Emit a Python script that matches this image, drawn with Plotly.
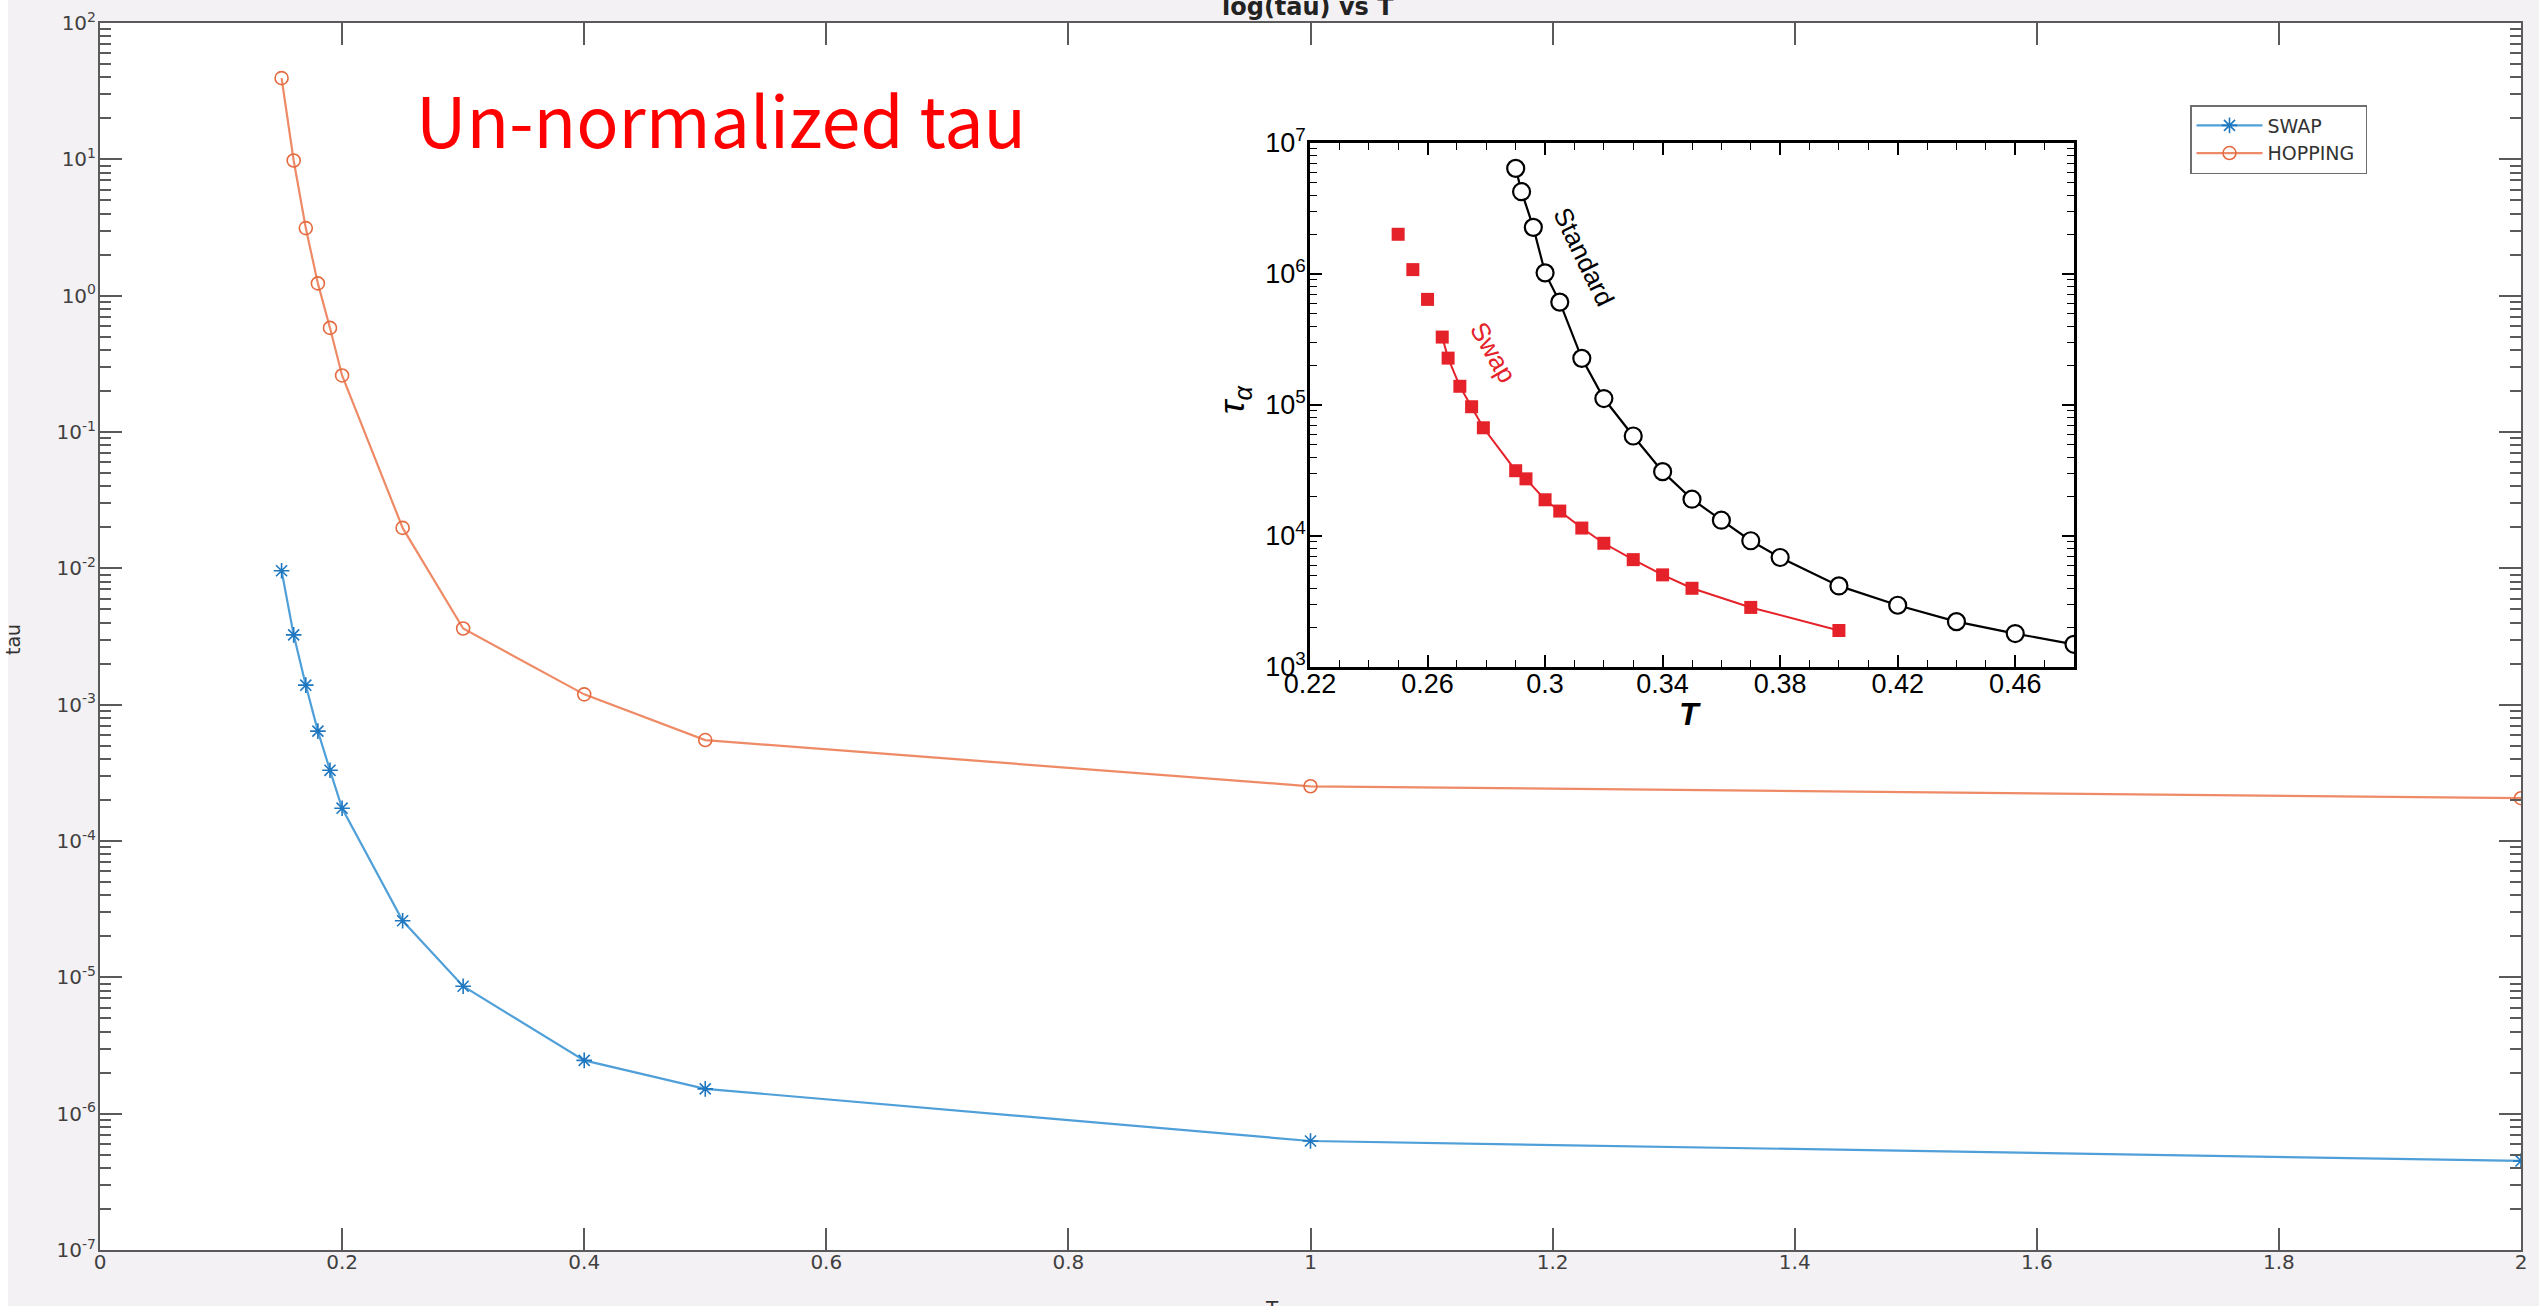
import plotly.graph_objects as go

# ---------------- data ----------------
T_main = [0.15, 0.16, 0.17, 0.18, 0.19, 0.20, 0.25, 0.30, 0.40, 0.50, 1.00, 2.00]
tau_swap = [9.6e-3, 3.25e-3, 1.39e-3, 6.4e-4, 3.3e-4, 1.74e-4, 2.6e-5, 8.6e-6,
            2.46e-6, 1.52e-6, 6.3e-7, 4.5e-7]
tau_hopping = [39.4, 9.8, 3.13, 1.23, 0.58, 0.26, 0.0198, 3.62e-3,
               1.19e-3, 5.5e-4, 2.52e-4, 2.06e-4]

# inset (tau_alpha vs T)
T_standard = [0.29, 0.292, 0.296, 0.30, 0.305, 0.3125, 0.32, 0.33, 0.34, 0.35,
              0.36, 0.37, 0.38, 0.40, 0.42, 0.44, 0.46, 0.48]
tau_standard = [6.4e6, 4.25e6, 2.27e6, 1.02e6, 6.1e5, 2.27e5, 1.12e5, 5.8e4, 3.1e4,
                1.91e4, 1.32e4, 9.2e3, 6.85e3, 4.16e3, 2.96e3, 2.22e3, 1.80e3, 1.49e3]
T_swap_in = [0.25, 0.255, 0.26, 0.265, 0.267, 0.271, 0.275, 0.279, 0.29, 0.2935,
             0.30, 0.305, 0.3125, 0.32, 0.33, 0.34, 0.35, 0.37, 0.40]
tau_swap_in = [2.01e6, 1.08e6, 6.4e5, 3.3e5, 2.28e5, 1.39e5, 9.7e4, 6.7e4, 3.15e4,
               2.73e4, 1.89e4, 1.55e4, 1.15e4, 8.8e3, 6.6e3, 5.05e3, 3.99e3, 2.85e3, 1.90e3]
swap_line_start = 3

main_xticks = [0, 0.2, 0.4, 0.6, 0.8, 1.0, 1.2, 1.4, 1.6, 1.8, 2.0]
main_xticktext = ["0", "0.2", "0.4", "0.6", "0.8", "1", "1.2", "1.4", "1.6", "1.8", "2"]
main_ydecades = [-7, -6, -5, -4, -3, -2, -1, 0, 1, 2]
inset_xticks = [0.22, 0.26, 0.30, 0.34, 0.38, 0.42, 0.46]
inset_xticktext = ["0.22", "0.26", "0.3", "0.34", "0.38", "0.42", "0.46"]
inset_ydecades = [3, 4, 5, 6, 7]

# ---------------- layout geometry (pixels) ----------------
W, H = 2539, 1306
PL, PR, PT, PB = 100, 2521, 23, 1250


def px(x):
    return (x - PL) / (PR - PL)


def py(y):
    return 1 - (y - PT) / (PB - PT)


IN_L, IN_R, IN_T, IN_B = 1310, 2074, 143, 667

AX_COL = "#5a5a5a"
TXT_COL = "#404040"
MAIN_FONT = "DejaVu Sans"
INSET_FONT = "Liberation Sans"
NB = "\u00a0"

fig = go.Figure()

# main traces
fig.add_trace(go.Scatter(
    x=T_main, y=tau_swap, name="SWAP" + NB * 6, mode="lines+markers",
    line=dict(color="#4f9fd9", width=2.2),
    marker=dict(symbol="asterisk-open", size=13, color="#1f77c0",
                line=dict(color="#1f77c0", width=1.6)),
    xaxis="x", yaxis="y"))
fig.add_trace(go.Scatter(
    x=T_main, y=tau_hopping, name="HOPPING" + NB, mode="lines+markers",
    line=dict(color="#ee8a66", width=2.2),
    marker=dict(symbol="circle-open", size=13, color="#e46a40",
                line=dict(color="#e46a40", width=1.6)),
    xaxis="x", yaxis="y"))

# inset traces
fig.add_trace(go.Scatter(
    x=T_standard, y=tau_standard, mode="lines+markers", showlegend=False,
    line=dict(color="black", width=2.2),
    marker=dict(symbol="circle", size=17, color="white",
                line=dict(color="black", width=2.2)),
    xaxis="x2", yaxis="y2"))
fig.add_trace(go.Scatter(
    x=T_swap_in[swap_line_start:], y=tau_swap_in[swap_line_start:], mode="lines",
    showlegend=False, line=dict(color="#e52229", width=2),
    xaxis="x2", yaxis="y2"))
fig.add_trace(go.Scatter(
    x=T_swap_in, y=tau_swap_in, mode="markers", showlegend=False,
    marker=dict(symbol="square", size=13, color="#e52229"),
    xaxis="x2", yaxis="y2"))


def sup(d):
    return "10<sup>%d</sup>" % d


main_minor = [m * 10.0 ** d for d in main_ydecades[:-1] for m in range(2, 10)]
inset_minor = [m * 10.0 ** d for d in inset_ydecades[:-1] for m in range(2, 10)]
inset_xminor = [round(0.22 + 0.01 * i, 2) for i in range(27)]

fig.update_layout(
    width=W, height=H,
    margin=dict(l=PL, r=W - PR, t=PT, b=H - PB, autoexpand=False),
    paper_bgcolor="#f4f1f4",
    plot_bgcolor="white",
    showlegend=True,
    legend=dict(x=px(2190), y=py(105), xanchor="left", yanchor="top",
                bgcolor="white", bordercolor="#6e6e6e", borderwidth=1.5,
                font=dict(family=MAIN_FONT, size=19, color="#333333"),
                tracegroupgap=0, itemwidth=66),
    xaxis=dict(
        domain=[0, 1], range=[0, 2], showgrid=False, zeroline=False,
        automargin=False,
        tickmode="array", tickvals=main_xticks, ticktext=main_xticktext,
        ticks="inside", ticklen=22, tickwidth=1.5, tickcolor=AX_COL,
        showline=True, linecolor=AX_COL, linewidth=2, mirror="ticks",
        tickfont=dict(family=MAIN_FONT, size=20, color=TXT_COL),
        ticklabelstandoff=-7),
    yaxis=dict(
        domain=[0, 1], type="log", range=[-7, 2], showgrid=False, zeroline=False,
        automargin=False,
        tickmode="array", tickvals=[10.0 ** d for d in main_ydecades],
        ticktext=[sup(d) for d in main_ydecades],
        ticks="inside", ticklen=22, tickwidth=1.5, tickcolor=AX_COL,
        showline=True, linecolor=AX_COL, linewidth=2, mirror="ticks",
        minor=dict(tickmode="array", tickvals=main_minor, ticks="inside",
                   ticklen=11, tickwidth=1.5, tickcolor=AX_COL, showgrid=False),
        tickfont=dict(family=MAIN_FONT, size=20, color=TXT_COL),
        ticklabelstandoff=-2),
    xaxis2=dict(
        domain=[px(IN_L), px(IN_R)], anchor="y2", range=[0.22, 0.48],
        showgrid=False, zeroline=False, automargin=False,
        tickmode="array", tickvals=inset_xticks, ticktext=inset_xticktext,
        ticks="inside", ticklen=12, tickwidth=1.5, tickcolor="black",
        showline=True, linecolor="black", linewidth=2.5, mirror="ticks",
        minor=dict(tickmode="array", tickvals=inset_xminor, ticks="inside",
                   ticklen=7, tickwidth=1.2, tickcolor="black", showgrid=False),
        tickfont=dict(family=INSET_FONT, size=27, color="black"),
        ticklabelstandoff=-9),
    yaxis2=dict(
        domain=[py(IN_B), py(IN_T)], anchor="x2", type="log", range=[3, 7],
        showgrid=False, zeroline=False, automargin=False,
        tickmode="array", tickvals=[10.0 ** d for d in inset_ydecades],
        ticktext=[sup(d) for d in inset_ydecades],
        ticks="inside", ticklen=12, tickwidth=1.5, tickcolor="black",
        showline=True, linecolor="black", linewidth=2.5, mirror="ticks",
        minor=dict(tickmode="array", tickvals=inset_minor, ticks="inside",
                   ticklen=7, tickwidth=1.2, tickcolor="black", showgrid=False),
        tickfont=dict(family=INSET_FONT, size=27, color="black"),
        ticklabelstandoff=-4),
)

annotations = [
    # title, cut off at top
    dict(text="<b>log(tau) vs T</b>", x=px(1308), y=py(23), xanchor="center",
         yanchor="bottom", font=dict(family=MAIN_FONT, size=24, color="#222222")),
    # y label
    dict(text="tau", x=px(13), y=py(640), xanchor="center", yanchor="middle",
         textangle=-90, font=dict(family=MAIN_FONT, size=19, color="#333333")),
    # x label (cut off at bottom)
    dict(text="T", x=px(1272), y=py(1294), xanchor="center", yanchor="top",
         font=dict(family=MAIN_FONT, size=20, color="#333333")),
    # red annotation
    dict(text="Un-normalized tau", x=px(414), y=py(118), xanchor="left",
         yanchor="middle",
         font=dict(family="Noto Sans CJK SC", size=70, color="#ff0000")),
    # inset labels
    dict(text="Standard", x=px(1584), y=py(257), xanchor="center", yanchor="middle",
         textangle=64, font=dict(family=INSET_FONT, size=26, color="black")),
    dict(text="Swap", x=px(1493), y=py(352), xanchor="center", yanchor="middle",
         textangle=60, font=dict(family=INSET_FONT, size=26, color="#e52229")),
    dict(text="<i>τ<sub>α</sub></i>", x=px(1234), y=py(400), xanchor="center",
         yanchor="middle", textangle=-90,
         font=dict(family=INSET_FONT, size=36, color="black")),
    dict(text="<b><i>T</i></b>", x=px(1690), y=py(714), xanchor="center",
         yanchor="middle", font=dict(family=INSET_FONT, size=32, color="black")),
]
for a in annotations:
    a.update(xref="paper", yref="paper", showarrow=False)
fig.update_layout(annotations=annotations)

# thin white strip on the far left edge of the screenshot
fig.add_shape(type="rect", xref="paper", yref="paper",
              x0=px(0), x1=px(8), y0=py(H + 5), y1=py(-5),
              fillcolor="white", line=dict(width=0), layer="below")

fig.write_html("out.html",
               config={"displayModeBar": False},
               post_script="document.body.style.margin='0px';"
                           "document.body.style.overflow='hidden';")
